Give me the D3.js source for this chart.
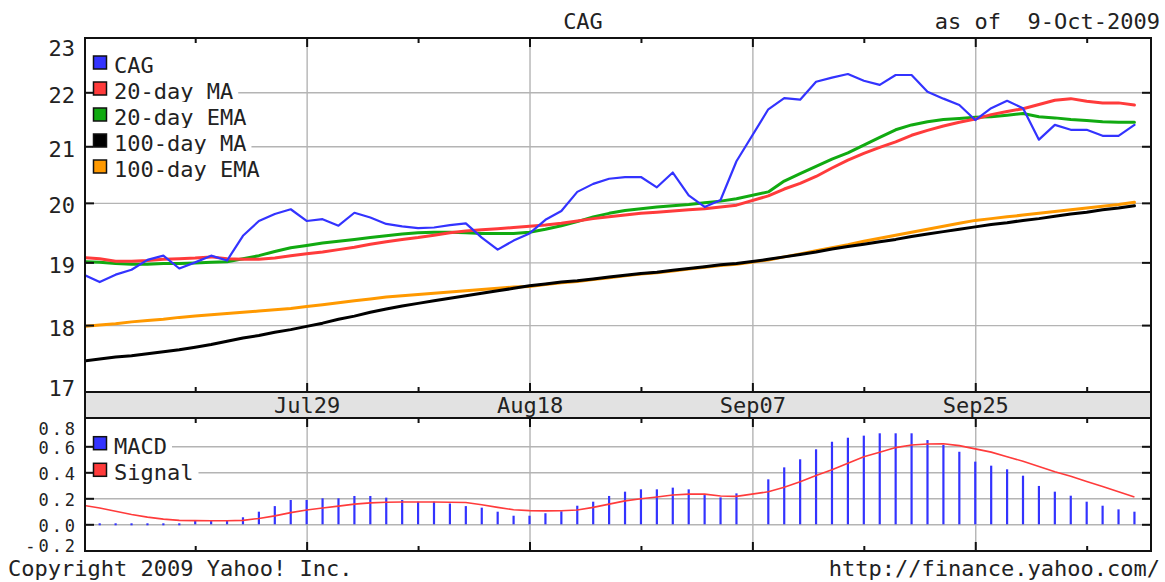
<!DOCTYPE html>
<html><head><meta charset="utf-8">
<script src="https://cdn.jsdelivr.net/npm/d3@7"></script>
<style>
html,body{margin:0;padding:0;background:#fff;}
svg{display:block;}
text{font-family:"DejaVu Sans Mono",monospace;font-size:22px;fill:#222;}
</style></head><body>
<svg id="chart" width="1165" height="582"></svg>
<script>
// ---------- data ----------
const dates = ["Jul09","Jul10","Jul13","Jul14","Jul15","Jul16","Jul17","Jul20","Jul21","Jul22","Jul23","Jul24","Jul27","Jul28","Jul29","Jul30","Jul31",
"Aug03","Aug04","Aug05","Aug06","Aug07","Aug10","Aug11","Aug12","Aug13","Aug14","Aug17","Aug18","Aug19","Aug20","Aug21","Aug24","Aug25","Aug26","Aug27","Aug28","Aug31",
"Sep01","Sep02","Sep03","Sep04","Sep07","Sep08","Sep09","Sep10","Sep11","Sep14","Sep15","Sep16","Sep17","Sep18","Sep21","Sep22","Sep23","Sep24","Sep25","Sep28","Sep29","Sep30",
"Oct01","Oct02","Oct05","Oct06","Oct07","Oct08","Oct09"];

const closePx = [18.80,18.68,18.80,18.88,19.04,19.11,18.90,19.00,19.11,19.03,19.44,19.69,19.81,19.89,19.69,19.72,19.61,19.83,19.75,19.64,19.60,19.57,19.58,19.62,19.65,19.41,19.21,19.36,19.48,19.71,19.86,20.19,20.33,20.42,20.45,20.45,20.27,20.53,20.13,19.93,20.05,20.73,null,21.68,21.89,21.86,22.20,22.28,22.35,22.22,22.14,22.33,22.33,22.01,21.88,21.76,21.48,21.70,21.84,21.70,21.12,21.39,21.30,21.30,21.19,21.19,21.39];

const ma20 = [19.08,19.06,19.02,19.02,19.03,19.05,19.06,19.07,19.09,19.06,19.05,19.05,19.07,19.11,19.14,19.17,19.21,19.25,19.30,19.34,19.38,19.41,19.45,19.49,19.52,19.54,19.56,19.58,19.60,19.62,19.65,19.69,19.73,19.76,19.79,19.82,19.84,19.86,19.88,19.90,19.93,19.96,null,20.12,20.24,20.34,20.46,20.61,20.75,20.87,20.98,21.08,21.20,21.29,21.37,21.44,21.50,21.58,21.64,21.69,21.77,21.85,21.88,21.83,21.80,21.80,21.76];

const ema20 = [19.01,19.00,18.98,18.97,18.97,18.98,18.98,18.99,19.00,19.01,19.06,19.11,19.18,19.24,19.28,19.32,19.35,19.38,19.41,19.44,19.47,19.49,19.50,19.50,19.49,19.48,19.48,19.48,19.50,19.55,19.61,19.68,19.76,19.82,19.87,19.90,19.93,19.95,19.97,20.00,20.03,20.07,null,20.19,20.38,20.51,20.64,20.77,20.88,21.02,21.16,21.30,21.39,21.45,21.49,21.51,21.53,21.54,21.57,21.60,21.54,21.52,21.49,21.47,21.45,21.44,21.44];

const ma100 = [17.45,17.48,17.51,17.53,17.56,17.59,17.62,17.66,17.70,17.75,17.80,17.84,17.89,17.93,17.98,18.03,18.09,18.14,18.20,18.25,18.30,18.34,18.38,18.42,18.46,18.50,18.54,18.58,18.62,18.65,18.68,18.70,18.73,18.76,18.79,18.82,18.84,18.87,18.90,18.93,18.96,18.98,null,19.05,19.09,19.13,19.17,19.22,19.26,19.30,19.34,19.38,19.43,19.47,19.51,19.55,19.59,19.63,19.66,19.70,19.73,19.77,19.81,19.84,19.88,19.91,19.95];

const ema100 = [17.98,18.00,18.02,18.05,18.07,18.09,18.12,18.14,18.16,18.18,18.20,18.22,18.24,18.26,18.29,18.32,18.35,18.38,18.41,18.44,18.46,18.48,18.50,18.52,18.54,18.56,18.58,18.60,18.61,18.64,18.67,18.69,18.72,18.75,18.78,18.81,18.83,18.86,18.89,18.92,18.95,18.97,null,19.04,19.09,19.14,19.19,19.24,19.29,19.35,19.40,19.45,19.50,19.55,19.60,19.65,19.70,19.73,19.76,19.79,19.82,19.85,19.88,19.91,19.94,19.97,20.01];

const macd = [null,0.00,0.00,-0.01,0.00,0.01,0.00,0.03,0.025,0.03,0.054,0.097,0.14,0.187,0.187,0.20,0.20,0.218,0.218,0.205,0.187,0.174,0.174,0.16,0.14,0.128,0.097,0.066,0.066,0.085,0.10,0.143,0.174,0.218,0.251,0.269,0.269,0.282,0.269,0.225,0.207,0.238,null,0.346,0.438,0.50,0.577,0.635,0.666,0.682,0.70,0.70,0.70,0.648,0.61,0.558,0.482,0.451,0.423,0.374,0.295,0.251,0.22,0.174,0.143,0.115,0.097];

const signal = [0.145,0.125,0.10,0.075,0.055,0.04,0.03,0.028,0.027,0.027,0.03,0.045,0.065,0.09,0.11,0.125,0.14,0.155,0.165,0.17,0.172,0.172,0.171,0.17,0.168,0.15,0.13,0.112,0.105,0.103,0.104,0.11,0.13,0.155,0.18,0.197,0.21,0.225,0.232,0.232,0.218,0.215,null,0.25,0.285,0.328,0.375,0.42,0.47,0.52,0.555,0.59,0.61,0.618,0.62,0.605,0.58,0.555,0.52,0.485,0.445,0.405,0.37,0.33,0.29,0.25,0.21];

const priceTicks = [17,18,19,20,21,22,23];
const priceGrid = [18,19,20,21,22];
const macdTicks = [-0.2,0.0,0.2,0.4,0.6,0.8];
const macdGrid = [0.0,0.2,0.4,0.6];
const majorDates = ["Jul29","Aug18","Sep07","Sep25"];
const minorDates = ["Jul20","Aug07","Aug27","Sep16","Oct06"];
const legendMain = ["CAG","20-day MA","20-day EMA","100-day MA","100-day EMA"];
const legendMacd = ["MACD","Signal"];
const titleText = "CAG";
const asOfText = "as of  9-Oct-2009";
const copyText = "Copyright 2009 Yahoo! Inc.";
const urlText = "http://finance.yahoo.com/";

// ---------- styles / layout ----------
const C = {blue:"#3333ff", red:"#ff3b3b", green:"#11aa11", black:"#000000", orange:"#ff9900", grid:"#b4b4b4", band:"#e2e2e2"};
const L = {left:85, right:1151, mainTop:38, mainBot:392, bandBot:418, macdBot:551};
const svg = d3.select("#chart");
svg.append("rect").attr("width",1165).attr("height",582).attr("fill","#fff");

const x = d3.scaleLinear().domain([0.077, 67.04]).range([L.left, L.right]);
const y = d3.scaleLog().domain([17, 23.054]).range([391.4, L.mainTop]);
const ym = d3.scaleLinear().domain([-0.2, 0.8]).range([550.3, 420.3]);
const W = L.right - L.left;
const idx = d => dates.indexOf(d);
const majorIdx = majorDates.map(idx), minorIdx = minorDates.map(idx);
const noDomain = g => g.select(".domain").remove();

const defs = svg.append("defs");
defs.append("clipPath").attr("id","clipMain").append("rect")
  .attr("x",L.left+1).attr("y",L.mainTop+1).attr("width",W-2).attr("height",L.mainBot-L.mainTop-2);
defs.append("clipPath").attr("id","clipMacd").append("rect")
  .attr("x",L.left+1).attr("y",L.bandBot+1).attr("width",W-2).attr("height",L.macdBot-L.bandBot-2);

// ---------- gridlines ----------
const gridStyle = g => g.call(noDomain).selectAll("line").attr("stroke",C.grid).attr("stroke-width",1.4);
svg.append("g").attr("transform",`translate(${L.left},0)`)
  .call(d3.axisLeft(y).tickValues(priceGrid).tickSize(-W).tickFormat("")).call(gridStyle);
svg.append("g").attr("transform",`translate(${L.left},0)`)
  .call(d3.axisLeft(ym).tickValues(macdGrid).tickSize(-W).tickFormat("")).call(gridStyle);
svg.append("g").attr("transform",`translate(0,${L.mainBot})`)
  .call(d3.axisTop(x).tickValues(majorIdx).tickSize(L.mainBot-L.mainTop).tickFormat("")).call(gridStyle);
svg.append("g").attr("transform",`translate(0,${L.macdBot})`)
  .call(d3.axisTop(x).tickValues(majorIdx).tickSize(L.macdBot-L.bandBot).tickFormat("")).call(gridStyle);

// ---------- price lines ----------
const pts = arr => arr.map((v,i)=>({i,v})).filter(d=>d.v!=null);
const line = d3.line().x(d=>x(d.i)).y(d=>y(d.v));
const main = svg.append("g").attr("clip-path","url(#clipMain)");
const series = [
  {data:ema100, color:C.orange, w:3},
  {data:ma100, color:C.black, w:3},
  {data:ema20, color:C.green, w:3},
  {data:ma20, color:C.red, w:3},
  {data:closePx, color:C.blue, w:2.2}
];
series.forEach(s=>{
  main.append("path").datum(pts(s.data)).attr("d",line)
    .attr("fill","none").attr("stroke",s.color).attr("stroke-width",s.w)
    .attr("stroke-linejoin","round").attr("stroke-linecap","round");
});

// ---------- MACD ----------
const mg = svg.append("g").attr("clip-path","url(#clipMacd)");
mg.selectAll("line.bar").data(pts(macd)).join("line").attr("class","bar")
  .attr("x1",d=>x(d.i)).attr("x2",d=>x(d.i))
  .attr("y1",d=>{const a=ym(0),b=ym(d.v);return Math.abs(a-b)<2?a+1:a;})
  .attr("y2",d=>{const a=ym(0),b=ym(d.v);return Math.abs(a-b)<2?a-1:b;})
  .attr("stroke",C.blue).attr("stroke-width",2.2);
mg.append("path").datum(pts(signal))
  .attr("d",d3.line().x(d=>x(d.i)).y(d=>ym(d.v)))
  .attr("fill","none").attr("stroke",C.red).attr("stroke-width",1.6);

// ---------- frames ----------
svg.append("rect").attr("x",L.left).attr("y",L.mainBot).attr("width",W).attr("height",L.bandBot-L.mainBot)
  .attr("fill",C.band);
[[L.mainTop,L.mainBot],[L.mainBot,L.bandBot],[L.bandBot,L.macdBot]].forEach(([a,b])=>{
  svg.append("rect").attr("x",L.left).attr("y",a).attr("width",W).attr("height",b-a)
    .attr("fill","none").attr("stroke","#111").attr("stroke-width",2);
});

// ---------- tick marks ----------
const tickStyle = g => g.call(noDomain).selectAll("line").attr("stroke","#111").attr("stroke-width",2);
[[L.mainTop,"b"],[L.mainBot,"t"],[L.bandBot,"b"],[L.macdBot,"t"]].forEach(([yy,dir])=>{
  const ax = dir==="b" ? d3.axisBottom : d3.axisTop;
  svg.append("g").attr("transform",`translate(0,${yy})`)
    .call(ax(x).tickValues(majorIdx).tickSize(9).tickFormat("")).call(tickStyle);
  svg.append("g").attr("transform",`translate(0,${yy})`)
    .call(ax(x).tickValues(minorIdx).tickSize(5).tickFormat("")).call(tickStyle);
});
svg.append("g").attr("transform",`translate(${L.left},0)`)
  .call(d3.axisRight(y).tickValues(priceGrid).tickSize(9).tickFormat("")).call(tickStyle);
svg.append("g").attr("transform",`translate(${L.right},0)`)
  .call(d3.axisLeft(y).tickValues(priceGrid).tickSize(9).tickFormat("")).call(tickStyle);
svg.append("g").attr("transform",`translate(${L.left},0)`)
  .call(d3.axisRight(ym).tickValues(macdGrid).tickSize(9).tickFormat("")).call(tickStyle);
svg.append("g").attr("transform",`translate(${L.right},0)`)
  .call(d3.axisLeft(ym).tickValues(macdGrid).tickSize(9).tickFormat("")).call(tickStyle);

// ---------- axis labels ----------
const clamp = (v,a,b)=>Math.max(a,Math.min(b,v));
svg.append("g").attr("transform",`translate(${L.left},0)`)
  .call(d3.axisLeft(y).tickValues(priceTicks).tickSize(0).tickPadding(10).tickFormat(d3.format("d")))
  .call(noDomain)
  .call(g=>g.selectAll("text").attr("dy",null).attr("font-size",null).attr("font-family",null)
    .attr("y",d=>clamp(y(d)+10,55,395)-y(d)));
svg.append("g").attr("transform",`translate(${L.left},0)`)
  .call(d3.axisLeft(ym).tickValues(macdTicks).tickSize(0).tickPadding(10).tickFormat(d3.format(".1f")))
  .call(noDomain)
  .call(g=>g.selectAll("text").attr("dy",null).attr("font-family",null)
    .attr("font-size",null).style("font-size","17px").style("letter-spacing","2.9px")
    .attr("dx","2.9")
    .text(d=>d3.format(".1f")(d).replace("−","-"))
    .attr("y",d=>clamp(ym(d)+7,434,551.5)-ym(d)));
svg.append("g").attr("transform",`translate(0,${L.mainBot})`)
  .call(d3.axisBottom(x).tickValues(majorIdx).tickSize(0).tickFormat(i=>dates[i]))
  .call(noDomain)
  .call(g=>g.selectAll("text").attr("dy",null).attr("font-size",null).attr("font-family",null).attr("y",21));

// ---------- header / footer ----------
svg.append("text").attr("x",583).attr("y",29).attr("text-anchor","middle").text(titleText);
svg.append("text").attr("x",1160).attr("y",29).attr("text-anchor","end").style("white-space","pre").text(asOfText);
svg.append("text").attr("x",8).attr("y",576).text(copyText);
svg.append("text").attr("x",1160).attr("y",576).attr("text-anchor","end").text(urlText);

// ---------- legends ----------
function legend(items, colors, top0, step){
  items.forEach((name,i)=>{
    const t = top0 + i*step;
    const g = svg.append("g");
    const bg = g.append("rect").attr("x",93).attr("y",t-6).attr("height",step).attr("fill","#fff");
    g.append("rect").attr("x",93.5).attr("y",t).attr("width",13).attr("height",13)
      .attr("fill",colors[i]).attr("stroke","#111").attr("stroke-width",1.5);
    const tx = g.append("text").attr("x",114).attr("y",t+17).text(name);
    bg.attr("width", 114 - 93 + tx.node().getComputedTextLength() + 5);
  });
}
legend(legendMain,[C.blue,C.red,C.green,C.black,C.orange],56,26);
legend(legendMacd,[C.blue,C.red],436.7,26.6);
</script>
</body></html>
